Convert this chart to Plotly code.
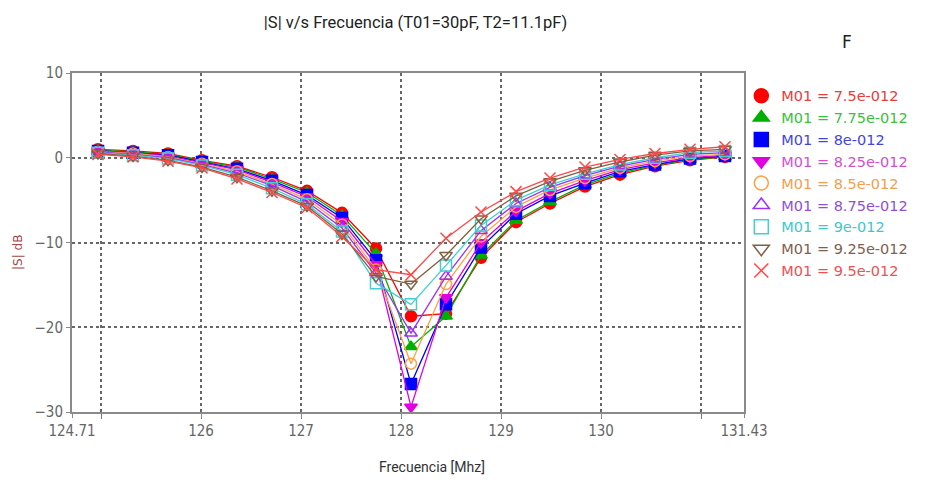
import plotly.graph_objects as go

freq = [124.97, 125.32, 125.67, 126.01, 126.36, 126.71, 127.06, 127.41, 127.75, 128.10,
        128.45, 128.80, 129.15, 129.49, 129.84, 130.19, 130.54, 130.89, 131.24]

names = ["M01 = 7.5e-012", "M01 = 7.75e-012", "M01 = 8e-012", "M01 = 8.25e-012",
         "M01 = 8.5e-012", "M01 = 8.75e-012", "M01 = 9e-012", "M01 = 9.25e-012",
         "M01 = 9.5e-012"]

s_75 = [1.0, 0.8, 0.5, -0.3, -1.0, -2.3, -3.9, -6.5, -10.7, -18.7, -18.4, -11.8, -7.6, -5.4, -3.4, -2.0, -1.0, -0.3, 0.1]
s_775 = [0.9, 0.7, 0.4, -0.4, -1.1, -2.5, -4.1, -6.8, -11.3, -22.3, -18.7, -11.5, -7.4, -5.2, -3.2, -1.8, -0.9, -0.2, 0.1]
s_80 = [0.8, 0.6, 0.3, -0.5, -1.3, -2.7, -4.4, -7.1, -12.1, -26.7, -17.3, -10.6, -6.6, -4.5, -3.0, -1.6, -0.8, -0.1, 0.2]
s_825 = [0.8, 0.6, 0.2, -0.6, -1.4, -2.9, -4.6, -7.5, -12.6, -29.4, -16.5, -10.0, -6.3, -4.2, -2.7, -1.4, -0.6, 0.0, 0.3]
s_85 = [0.7, 0.5, 0.1, -0.7, -1.6, -3.1, -4.9, -7.9, -13.2, -24.3, -14.9, -9.3, -5.8, -3.8, -2.4, -1.2, -0.4, 0.2, 0.4]
s_875 = [0.7, 0.4, 0.0, -0.8, -1.8, -3.3, -5.2, -8.3, -13.6, -20.7, -14.0, -8.6, -5.4, -3.5, -2.1, -1.0, -0.2, 0.4, 0.6]
s_90 = [0.6, 0.3, -0.1, -0.9, -2.0, -3.6, -5.5, -8.7, -14.8, -17.3, -12.7, -8.0, -5.0, -3.2, -1.9, -0.8, 0.0, 0.6, 0.8]
s_925 = [0.5, 0.2, -0.3, -1.1, -2.3, -3.9, -5.7, -9.0, -14.0, -14.9, -11.5, -7.2, -4.5, -2.8, -1.5, -0.5, 0.3, 0.8, 1.0]
s_95 = [0.4, 0.1, -0.4, -1.2, -2.5, -4.1, -5.9, -9.3, -13.2, -13.8, -9.5, -6.4, -4.0, -2.4, -1.1, -0.2, 0.5, 1.0, 1.3]

series = [s_75, s_775, s_80, s_825, s_85, s_875, s_90, s_925, s_95]

x_tick_vals = [124.71, 126, 127, 128, 129, 130, 131.43]
x_tick_text = ["124.71", "126", "127", "128", "129", "130", "131.43"]
y_tick_vals = [10, 0, -10, -20, -30]

colors = ["#ff0000", "#00b000", "#0000ff", "#e000e0", "#ffa040",
          "#9b30ff", "#40d0d0", "#806040", "#ff4848"]
text_colors = ["#e83c3c", "#3cc03c", "#4444dd", "#d050d0", "#f0a050",
               "#9050d0", "#40c8c8", "#806050", "#f05050"]
symbols = ["circle", "triangle-up", "square", "triangle-down", "circle-open",
           "triangle-up-open", "square-open", "triangle-down-open", "x-thin-open"]

fig = go.Figure()
for name, ys, c, sym in zip(names, series, colors, symbols):
    fig.add_trace(go.Scatter(
        x=freq, y=ys, mode="lines+markers", name=name, showlegend=False,
        line=dict(color=c, width=1.3),
        marker=dict(symbol=sym, size=11, color=c, line=dict(color=c, width=1.5)),
    ))
for name, c, tc, sym in zip(names, colors, text_colors, symbols):
    fig.add_trace(go.Scatter(
        x=[None], y=[None], mode="markers", name=f"<span style='color:{tc}'>{name}</span>",
        marker=dict(symbol=sym, size=14, color=c, line=dict(color=c, width=1.5)),
    ))

fig.update_layout(
    width=938, height=480,
    margin=dict(l=72, r=194, t=73, b=68),
    paper_bgcolor="white", plot_bgcolor="white",
    title=dict(text="|S| v/s Frecuencia (T01=30pF, T2=11.1pF)",
               x=0.443, xanchor="center", y=1 - 22 / 480, yanchor="middle",
               xref="container", yref="container",
               font=dict(family="Roboto, sans-serif", size=16.5, color="#222")),
    legend=dict(x=0.996, xanchor="left", y=0.98, yanchor="top",
                font=dict(family="DejaVu Sans", size=14.5),
                itemsizing="trace", bgcolor="rgba(0,0,0,0)", tracegroupgap=0),
    font=dict(family="DejaVu Sans", color="#555"),
)

fig.update_xaxes(
    range=[124.71, 131.43], tickmode="array", tickvals=x_tick_vals, ticktext=x_tick_text,
    showgrid=False, zeroline=False,
    showline=True, linecolor="#8a8a8a", linewidth=2, mirror=True,
    ticks="outside", ticklen=4, tickcolor="#8a8a8a",
    tickfont=dict(family="DejaVu Sans Condensed, DejaVu Sans", size=15, color="#666"),
    minor=dict(tick0=125, dtick=1, showgrid=True, gridcolor="#666", griddash="dot",
               gridwidth=1.5, ticks="outside", ticklen=5, tickcolor="#777"),
)
fig.update_yaxes(
    range=[-30, 10], tickmode="array", tickvals=y_tick_vals,
    showgrid=True, gridcolor="#666", griddash="dot", gridwidth=1.5, zeroline=False,
    showline=True, linecolor="#8a8a8a", linewidth=2, mirror=True,
    ticks="outside", ticklen=4, tickcolor="#8a8a8a",
    tickfont=dict(family="DejaVu Sans Condensed, DejaVu Sans", size=15, color="#666"),
)

fig.add_annotation(text="Frecuencia [Mhz]", xref="paper", yref="paper",
                   x=(432 - 72) / 672, y=(412 - 467) / 339, showarrow=False,
                   xanchor="center", yanchor="middle",
                   font=dict(family="Roboto, sans-serif", size=14, color="#333"))
fig.add_annotation(text="|S| dB", xref="paper", yref="paper",
                   x=(18 - 72) / 672, y=(412 - 252) / 339, showarrow=False, textangle=-90,
                   xanchor="center", yanchor="middle",
                   font=dict(family="DejaVu Sans", size=12, color="#a04848"))
fig.add_annotation(text="F", xref="paper", yref="paper",
                   x=(847 - 72) / 672, y=(412 - 42) / 339, showarrow=False,
                   xanchor="center", yanchor="middle",
                   font=dict(family="DejaVu Sans", size=17, color="#222"))

fig.write_html("out.html")
